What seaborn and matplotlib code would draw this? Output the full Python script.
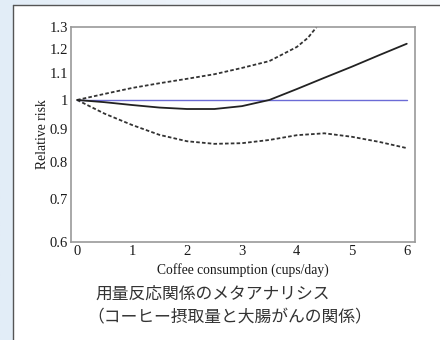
import matplotlib
matplotlib.use("Agg")
import matplotlib.pyplot as plt
import seaborn as sns
import pandas as pd
import numpy as np
from matplotlib.patches import Rectangle
from matplotlib.lines import Line2D
from matplotlib.ticker import FixedLocator, FixedFormatter, NullLocator
from matplotlib.colors import LinearSegmentedColormap

sns.set_theme(style="white")

# data
x_main = [0, 0.5, 1, 1.5, 2, 2.5, 3, 3.5, 4, 4.5, 5, 5.5, 6]
rr_main = [1.0, 0.992, 0.982, 0.973, 0.968, 0.968, 0.978, 1.0, 1.04, 1.083, 1.127, 1.175, 1.224]
x_upper = [0, 0.5, 1, 1.5, 2, 2.5, 3, 3.5, 4, 4.2, 4.36]
rr_upper = [1.0, 1.022, 1.044, 1.062, 1.079, 1.097, 1.122, 1.15, 1.21, 1.25, 1.30]
x_lower = [0, 0.5, 1, 1.5, 2, 2.5, 3, 3.5, 4, 4.5, 5, 5.5, 6]
rr_lower = [1.0, 0.952, 0.914, 0.882, 0.862, 0.854, 0.856, 0.866, 0.881, 0.887, 0.876, 0.860, 0.841]
x_ref = [0, 6]
rr_ref = [1.0, 1.0]
y_ticks = [0.6, 0.7, 0.8, 0.9, 1.0, 1.1, 1.2, 1.3]
y_tick_labels = ["0.6", "0.7", "0.8", "0.9", "1", "1.1", "1.2", "1.3"]
x_ticks = [0, 1, 2, 3, 4, 5, 6]
x_label = "Coffee consumption (cups/day)"
y_label = "Relative risk"
caption = ["用量反応関係のメタアナリシス", "（コーヒー摂取量と大腸がんの関係）"]

W, H = 440, 340
fig = plt.figure(figsize=(W / 100, H / 100), dpi=100)

# background: light blue gradient + white panel
bg = fig.add_axes([0, 0, 1, 1], zorder=-10)
grad = np.linspace(0, 1, 200)[None, :]
cmap = LinearSegmentedColormap.from_list("bg", ["#e2edf7", "#f0f5fb", "#f7fafd"])
bg.imshow(grad, aspect="auto", cmap=cmap, extent=[0, 1, 0, 1])
bg.set_xlim(0, 1); bg.set_ylim(0, 1)
bg.axis("off")
px = 13 / W
py = 1 - 5 / H
bg.add_patch(Rectangle((px, 0), 1 - px, py, facecolor="white", edgecolor="none", zorder=2))
bg.add_line(Line2D([px, px], [0, py], color="#555555", lw=1.0, zorder=3))
bg.add_line(Line2D([px, 1], [py, py], color="#555555", lw=1.0, zorder=3))

ax = fig.add_axes([71 / W, 1 - 242 / H, (415 - 71) / W, (242 - 27) / H])
ax.set_facecolor("white")

df_ref = pd.DataFrame({"x": x_ref, "rr": rr_ref})
df_main = pd.DataFrame({"x": x_main, "rr": rr_main})
df_up = pd.DataFrame({"x": x_upper, "rr": rr_upper})
df_lo = pd.DataFrame({"x": x_lower, "rr": rr_lower})

sns.lineplot(data=df_ref, x="x", y="rr", ax=ax, color="#6b6bd6", lw=1.0)
sns.lineplot(data=df_up, x="x", y="rr", ax=ax, color="#333333", lw=1.3, linestyle=(0, (2, 1.2)))
sns.lineplot(data=df_lo, x="x", y="rr", ax=ax, color="#333333", lw=1.3, linestyle=(0, (2, 1.2)))
sns.lineplot(data=df_main, x="x", y="rr", ax=ax, color="#222222", lw=1.3)

ax.set_yscale("log")
ax.set_ylim(0.6, 1.3)
ax.set_xlim(-0.11, 6.15)
ax.yaxis.set_major_locator(FixedLocator(y_ticks))
ax.yaxis.set_major_formatter(FixedFormatter(y_tick_labels))
ax.yaxis.set_minor_locator(NullLocator())
ax.set_xticks(x_ticks)
ax.set_xticklabels([str(t) for t in x_ticks])

serif = "Liberation Serif"
for lab in ax.get_xticklabels() + ax.get_yticklabels():
    lab.set_fontfamily(serif)
    lab.set_fontsize(10.5)
    lab.set_color("#1a1a1a")
ax.tick_params(axis="both", direction="in", length=2, width=0.8, color="#777777", pad=2)
ax.tick_params(axis="x", pad=2)
ax.set_xlabel(x_label, fontfamily=serif, fontsize=9.8, color="#1a1a1a", labelpad=4)
ax.set_ylabel(y_label, fontfamily=serif, fontsize=9.8, color="#1a1a1a", labelpad=0.5)
for s in ax.spines.values():
    s.set_visible(True)
    s.set_color("#999999")
    s.set_linewidth(1.2)

cjk = ["Noto Sans CJK JP", "DejaVu Sans"]
fig.text(95 / W, 1 - 294 / H, caption[0], fontfamily=cjk,
         fontsize=12.1, color="#333333", va="center", ha="left")
fig.text(87 / W, 1 - 318 / H, caption[1], fontfamily=cjk,
         fontsize=12.1, color="#333333", va="center", ha="left")

fig.savefig("out.png", dpi=100)
